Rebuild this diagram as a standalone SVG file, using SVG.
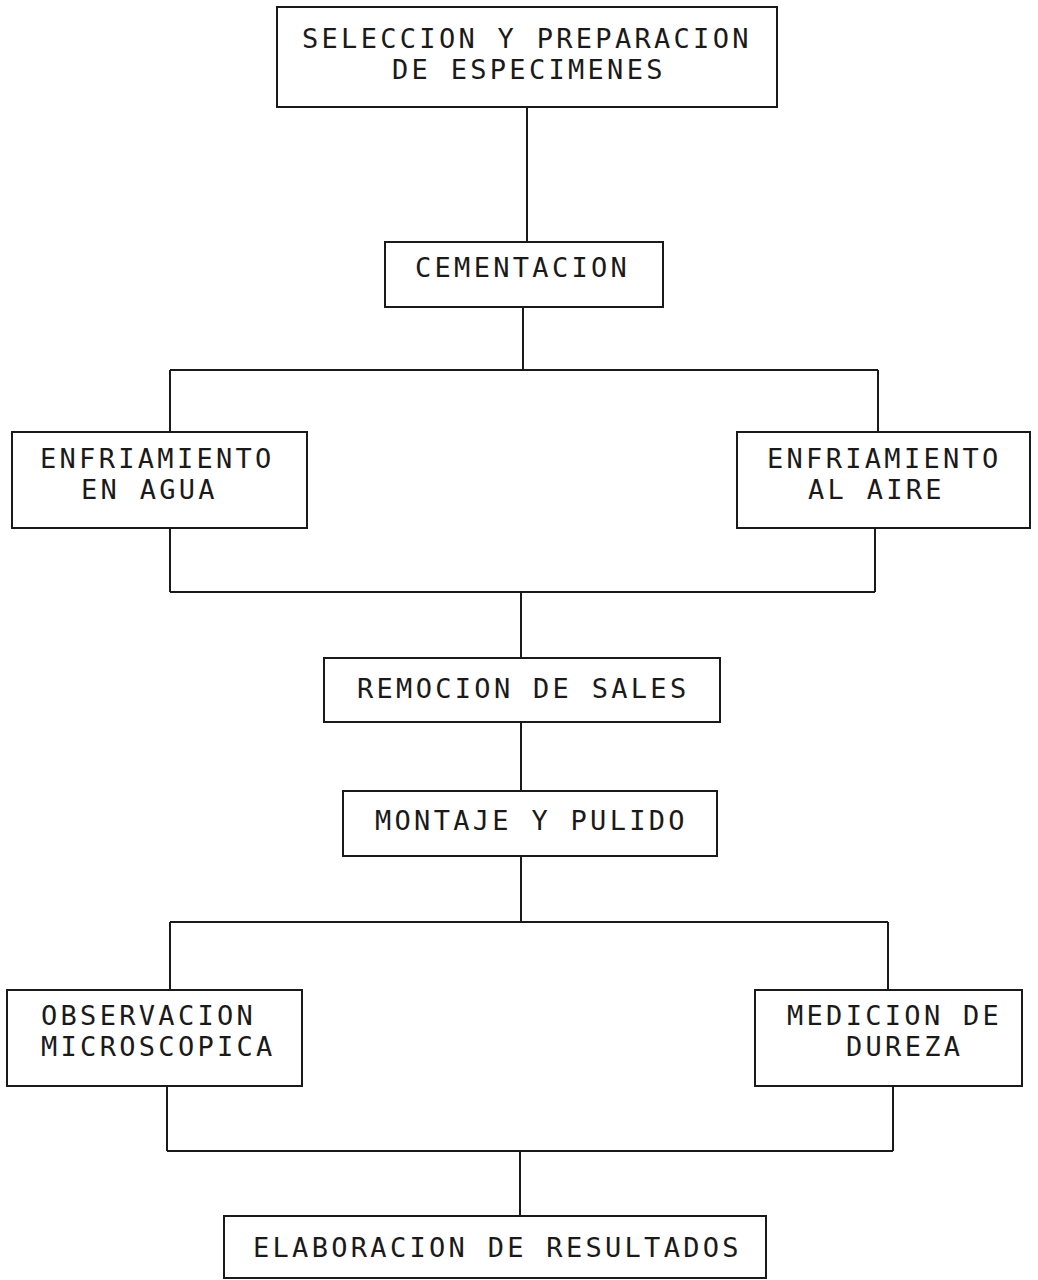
<svg xmlns="http://www.w3.org/2000/svg" width="1038" height="1280" viewBox="0 0 1038 1280">
<style>
.box{fill:none;stroke:#1a1a1a;stroke-width:2}
.ln{fill:none;stroke:#1a1a1a;stroke-width:2}
text{font-family:"DejaVu Sans Mono","Liberation Mono",monospace;font-size:27px;letter-spacing:3.3px;fill:#1a1a1a}
</style>
<rect width="1038" height="1280" fill="#ffffff"/>
<g id="connectors">
<path class="ln" d="M527,107 V242"/>
<path class="ln" d="M523,307 V370 M170,370 H878 M170,370 V432 M878,370 V432"/>
<path class="ln" d="M170,528 V592 M875,528 V592 M170,592 H875 M521,592 V658"/>
<path class="ln" d="M521,722 V791"/>
<path class="ln" d="M521,856 V922 M170,922 H888 M170,922 V990 M888,922 V990"/>
<path class="ln" d="M167,1086 V1151 M893,1086 V1151 M167,1151 H893 M520,1151 V1216"/>
</g>
<g id="n1"><rect class="box" x="277" y="7" width="500" height="100"/><text x="302" y="48">SELECCION Y PREPARACION</text><text x="392" y="79">DE ESPECIMENES</text></g>
<g id="n2"><rect class="box" x="385" y="242" width="278" height="65"/><text x="415" y="277">CEMENTACION</text></g>
<g id="n3"><rect class="box" x="12" y="432" width="295" height="96"/><text x="40" y="468">ENFRIAMIENTO</text><text x="81" y="499">EN AGUA</text></g>
<g id="n4"><rect class="box" x="737" y="432" width="293" height="96"/><text x="767" y="468">ENFRIAMIENTO</text><text x="808" y="499">AL AIRE</text></g>
<g id="n5"><rect class="box" x="324" y="658" width="396" height="64"/><text x="357" y="698">REMOCION DE SALES</text></g>
<g id="n6"><rect class="box" x="343" y="791" width="374" height="65"/><text x="375" y="830">MONTAJE Y PULIDO</text></g>
<g id="n7"><rect class="box" x="7" y="990" width="295" height="96"/><text x="41" y="1025">OBSERVACION</text><text x="41" y="1056">MICROSCOPICA</text></g>
<g id="n8"><rect class="box" x="755" y="990" width="267" height="96"/><text x="787" y="1025">MEDICION DE</text><text x="846" y="1056">DUREZA</text></g>
<g id="n9"><rect class="box" x="224" y="1216" width="542" height="62"/><text x="253" y="1257">ELABORACION DE RESULTADOS</text></g>
</svg>
